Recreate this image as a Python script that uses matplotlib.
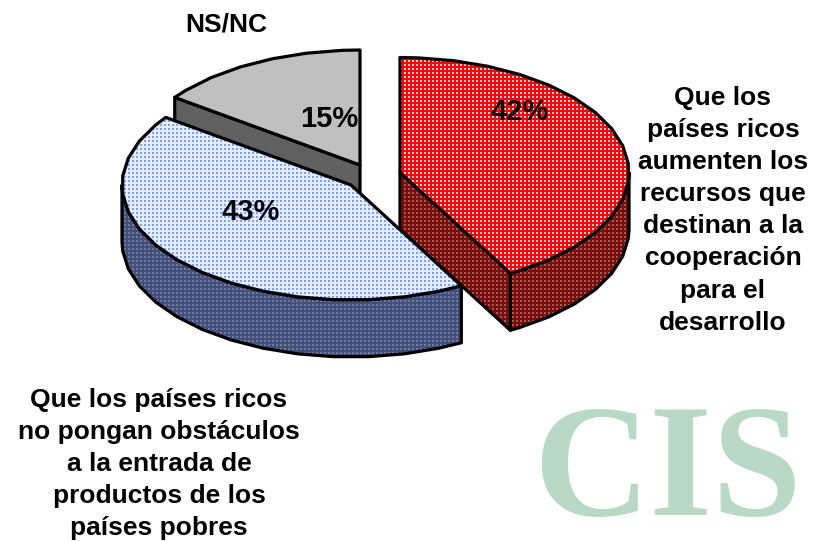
import numpy as np
import matplotlib
matplotlib.use('Agg')
import matplotlib.pyplot as plt
from matplotlib.patches import Polygon

# Data
# ----
shares = [42, 43, 15]
share_labels = ['42%', '43%', '15%']
red_label = ['Que los', 'países ricos', 'aumenten los', 'recursos que', 'destinan a la',
             'cooperación', 'para el', 'desarrollo']
blue_label = ['Que los países ricos', 'no pongan obstáculos', 'a la entrada de',
              'productos de los', 'países pobres']
gray_label = ['NS/NC']
logo = 'CIS'

# Pie geometry, in pixels of the 817x541 picture
# ----------------------------------------------
W, H = 817, 541
RX, RY = 229, 115
DEPTH = 57
centers = [(400, 172.5), (351, 185), (360, 165)]
STEP = 9.0

fig = plt.figure(figsize=(W / 100, H / 100), dpi=100)
ax = fig.add_axes([0, 0, 1, 1])
ax.set_xlim(0, W)
ax.set_ylim(H, 0)
ax.axis('off')


def texture(bg, dot, period=4, size=2):
    # Repeating square-dot pattern over the whole canvas.
    yy, xx = np.mgrid[0:H, 0:W]
    mask = (xx % period < size) & (yy % period < size)
    img = np.empty((H, W, 3))
    img[:] = matplotlib.colors.to_rgb(bg)
    img[mask] = matplotlib.colors.to_rgb(dot)
    return img


def arc(center, a0, a1):
    # Coarse arc like the original: clockwise degrees from 12 o'clock.
    grid = np.arange(np.ceil((a0 - 4.5) / STEP), np.floor((a1 - 4.5) / STEP) + 1) * STEP + 4.5
    grid = grid[(grid > a0 + 0.5) & (grid < a1 - 0.5)]
    ang = np.radians(np.concatenate([[a0], grid, [a1]]))
    return np.column_stack([center[0] + RX * np.sin(ang), center[1] - RY * np.cos(ang)])


def face(points, bg, dot=None):
    poly = Polygon(points, closed=True, fc=bg if dot is None else 'none', ec='black',
                   lw=2.3, joinstyle='round', zorder=face.z + 1)
    if dot is not None:
        im = ax.imshow(texture(bg, dot), extent=(0, W, H, 0), interpolation='nearest',
                       aspect='auto', zorder=face.z)
        ax.add_patch(poly)
        im.set_clip_path(poly)
    else:
        ax.add_patch(poly)
    face.z += 2


face.z = 1


def wall(points):
    return np.vstack([points, (points + np.array([0, DEPTH]))[::-1]])


# Slice angles come from the shares, starting at 12 o'clock and going clockwise.
edges = np.concatenate([[0], np.cumsum(shares)]) * 3.6
red = (edges[0], edges[1])
blue = (edges[1], edges[2])
gray = (edges[2], edges[3])

# Grey slice, at the back.
apex = np.array(centers[2])
rim = arc(apex, *gray)
face(wall(np.array([rim[0], apex])), '#606060')
face(np.vstack([apex, rim]), '#C0C0C0')

# Red slice.
apex = np.array(centers[0])
rim = arc(apex, *red)
face(wall(np.array([apex, rim[-1]])), '#850505', '#906060')
face(wall(arc(apex, 90, red[1])), '#850505', '#906060')
face(np.vstack([apex, rim]), '#FF0000', '#FFC8C8')

# Blue slice, in front.
apex = np.array(centers[1])
rim = arc(apex, *blue)
face(wall(arc(apex, blue[0], 270)), '#45507A', '#707AA0')
face(np.vstack([apex, rim]), '#E6EEFF', '#7FA0FF')

# Text
# ----
bold = dict(family='Liberation Sans', weight='bold', color='black', ha='center',
            va='baseline', zorder=50)

for txt, x, y in zip(share_labels, [520, 251, 329], [120, 220, 127]):
    ax.text(x, y, txt, fontsize=21, **bold)

for i, line in enumerate(red_label):
    ax.text(723, 105 + i * 32.1, line, fontsize=19, **bold)
for i, line in enumerate(blue_label):
    ax.text(159, 407 + i * 32.0, line, fontsize=19, **bold)
ax.text(226, 31, gray_label[0], fontsize=19, **bold)

ax.text(667, 515, logo, family='Liberation Serif', weight='bold', fontsize=116,
        color='#B9D9C6', ha='center', va='baseline', zorder=0)

fig.savefig('out.png', dpi=100)
